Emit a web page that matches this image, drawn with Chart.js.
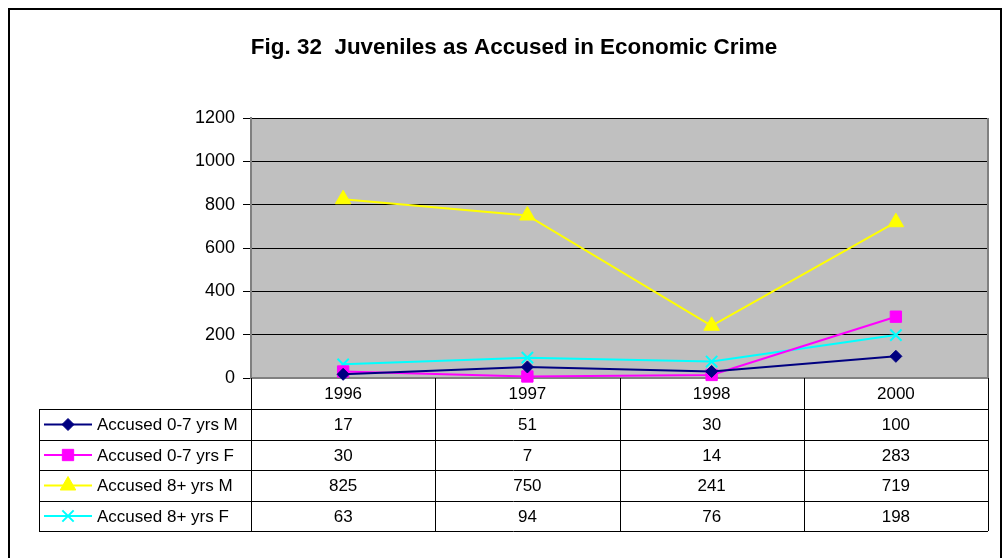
<!DOCTYPE html>
<html>
<head>
<meta charset="utf-8">
<script src="https://cdn.jsdelivr.net/npm/chart.js@4"></script>
<style>
  body { margin: 0; background: #fff; }
  canvas { display: block; }
</style>
</head>
<body>
<canvas id="myChart" width="1004" height="558"></canvas>
<script>
// the chart data
const TITLE = "Fig. 32  Juveniles as Accused in Economic Crime"
const years = ["1996", "1997", "1998", "2000"]
const seriesNames = ["Accused 0-7 yrs M", "Accused 0-7 yrs F", "Accused 8+ yrs M", "Accused 8+ yrs F"]
const male07 = [17, 51, 30, 100]
const female07 = [30, 7, 14, 283]
const male8 = [825, 750, 241, 719]
const female8 = [63, 94, 76, 198]
const yTicks = [0, 200, 400, 600, 800, 1000, 1200]

const FONT = "'Liberation Sans', Arial, sans-serif"

// row lines of the data table (under the plot)
const rowLines = [409, 440, 470, 501, 531]
const tableLeft = 39

// draws title, grey plot background, data table and frame
const tablePlugin = {
  id: "tablePlugin",
  beforeDraw(chart) {
    const ctx = chart.ctx
    const a = chart.chartArea
    ctx.save()
    ctx.fillStyle = "#fff"
    ctx.fillRect(0, 0, chart.width, chart.height)
    ctx.fillStyle = "#c0c0c0"
    ctx.fillRect(a.left, a.top, a.right - a.left, a.bottom - a.top)
    ctx.restore()
  },
  afterDraw(chart) {
    const ctx = chart.ctx
    const a = chart.chartArea
    const x = chart.scales.x
    const half = (a.right - a.left) / years.length / 2
    ctx.save()

    // right edge of plot
    ctx.strokeStyle = "#808080"
    ctx.lineWidth = 2
    ctx.beginPath()
    ctx.moveTo(a.right, a.top)
    ctx.lineTo(a.right, a.bottom)
    ctx.stroke()

    // title
    ctx.fillStyle = "#000"
    ctx.font = "bold 22px " + FONT
    ctx.textAlign = "center"
    ctx.textBaseline = "middle"
    ctx.save()
    ctx.translate(514, 48)
    ctx.scale(1.02, 1)
    ctx.fillText(TITLE, 0, 0)
    ctx.restore()

    // table lines
    ctx.strokeStyle = "#000"
    ctx.lineWidth = 1
    ctx.beginPath()
    rowLines.forEach(function (y) {
      ctx.moveTo(tableLeft, y + 0.5)
      ctx.lineTo(a.right, y + 0.5)
    })
    ctx.moveTo(tableLeft + 0.5, rowLines[0])
    ctx.lineTo(tableLeft + 0.5, rowLines[rowLines.length - 1])
    ctx.moveTo(a.left + 0.5, a.bottom)
    ctx.lineTo(a.left + 0.5, rowLines[rowLines.length - 1])
    for (let i = 0; i < years.length; i++) {
      const edge = Math.round(x.getPixelForValue(i) + half) + 0.5
      ctx.moveTo(edge, a.bottom)
      ctx.lineTo(edge, rowLines[rowLines.length - 1])
    }
    ctx.stroke()

    // years and values
    ctx.font = "17px " + FONT
    ctx.fillStyle = "#000"
    const headY = (a.bottom + rowLines[0]) / 2 + 1
    years.forEach(function (yr, i) {
      ctx.fillText(yr, x.getPixelForValue(i), headY)
    })
    chart.data.datasets.forEach(function (ds, r) {
      const cy = (rowLines[r] + rowLines[r + 1]) / 2 + 1
      ds.data.forEach(function (v, i) {
        ctx.fillStyle = "#000"
        ctx.fillText(String(v), x.getPixelForValue(i), cy)
      })
      // legend key in first column
      ctx.strokeStyle = ds.borderColor
      ctx.lineWidth = 2
      ctx.beginPath()
      ctx.moveTo(44, cy - 1)
      ctx.lineTo(92, cy - 1)
      ctx.stroke()
      ctx.fillStyle = ds.pointBackgroundColor
      ctx.strokeStyle = ds.pointBorderColor
      ctx.lineWidth = ds.pointBorderWidth
      Chart.helpers.drawPoint(ctx, {
        pointStyle: ds.pointStyle,
        radius: ds.pointRadius,
        borderWidth: ds.pointBorderWidth,
        rotation: 0
      }, 68, cy - 1)
      ctx.fillStyle = "#000"
      ctx.textAlign = "left"
      ctx.fillText(seriesNames[r], 97, cy)
      ctx.textAlign = "center"
    })

    // outer frame
    ctx.strokeStyle = "#000"
    ctx.lineWidth = 2
    ctx.strokeRect(9, 9, 992, 600)
    ctx.restore()
  }
}

function makeSet(label, data, color, style, radius) {
  return {
    label: label,
    data: data,
    borderColor: color,
    backgroundColor: color,
    pointBackgroundColor: color,
    pointBorderColor: color,
    pointStyle: style,
    pointRadius: radius,
    pointBorderWidth: style === "crossRot" ? 2 : 1,
    borderWidth: 2,
    tension: 0,
    clip: false
  }
}

const chart = new Chart(document.getElementById("myChart"), {
  type: "line",
  data: {
    labels: years,
    datasets: [
      makeSet(seriesNames[0], male07, "#000080", "rectRot", 6),
      makeSet(seriesNames[1], female07, "#ff00ff", "rect", 8),
      makeSet(seriesNames[2], male8, "#ffff00", "triangle", 9),
      makeSet(seriesNames[3], female8, "#00ffff", "crossRot", 8)
    ]
  },
  options: {
    responsive: false,
    animation: false,
    layout: { padding: { left: 20, right: 16, top: 118, bottom: 180 } },
    plugins: {
      legend: { display: false },
      title: { display: false },
      tooltip: { enabled: false }
    },
    scales: {
      x: {
        offset: true,
        grid: { display: false, offset: true },
        border: { color: "#808080", width: 2 },
        ticks: { display: false },
        afterFit: function (s) { s.height = 0 }
      },
      y: {
        min: 0,
        max: 1200,
        afterBuildTicks: function (s) { s.ticks = yTicks.map(function (v) { return { value: v } }) },
        grid: { color: "#000", lineWidth: 1, tickLength: 8, drawOnChartArea: true },
        border: { color: "#808080", width: 2 },
        ticks: {
          color: "#000",
          padding: 8,
          font: { size: 18, family: FONT },
          callback: function (v) { return String(v) }
        },
        afterFit: function (s) { s.width = 231 }
      }
    }
  },
  plugins: [tablePlugin]
})
</script>
</body>
</html>
